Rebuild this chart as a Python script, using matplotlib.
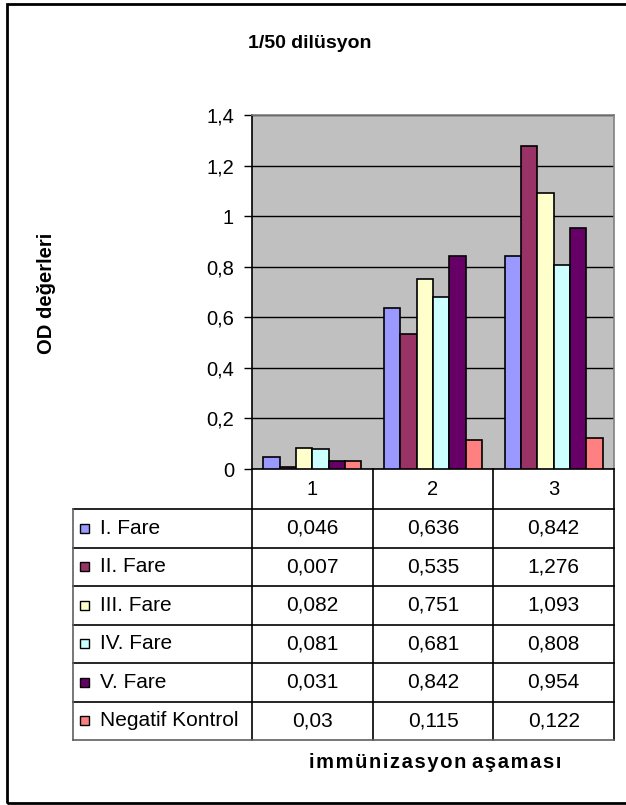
import numpy as np
import matplotlib.pyplot as plt
from matplotlib.patches import Rectangle
from matplotlib.lines import Line2D

plt.rcParams['font.family'] = ['Liberation Sans', 'DejaVu Sans']

# OD values per mouse at each immunization stage
stages = ['1', '2', '3']
series = ['I. Fare', 'II. Fare', 'III. Fare', 'IV. Fare', 'V. Fare', 'Negatif Kontrol']
fare_1 = [0.046, 0.636, 0.842]
fare_2 = [0.007, 0.535, 1.276]
fare_3 = [0.082, 0.751, 1.093]
fare_4 = [0.081, 0.681, 0.808]
fare_5 = [0.031, 0.842, 0.954]
negatif = [0.03, 0.115, 0.122]
colors = ['#9999FF', '#993366', '#FFFFCC', '#CCFFFF', '#660066', '#FF8080']

values = [fare_1, fare_2, fare_3, fare_4, fare_5, negatif]

W, H = 626, 805
fig = plt.figure(figsize=(W / 100, H / 100), dpi=100)


def fx(x):
    return x / W


def fy(y):
    return 1 - y / H


def comma(v):
    return f"{v:g}".replace('.', ',')


# plot area in pixels
ax_l, ax_r, ax_t, ax_b = 252, 614, 115, 469
ax = fig.add_axes([fx(ax_l), fy(ax_b), fx(ax_r) - fx(ax_l), fy(ax_t) - fy(ax_b)])
ax.set_facecolor('#C0C0C0')

n = len(series)
bw = 0.135
x = np.arange(len(stages))
for i, (vals, c) in enumerate(zip(values, colors)):
    ax.bar(x + (i - (n - 1) / 2) * bw, vals, bw, color=c, edgecolor='black',
           linewidth=1.2, zorder=3)

ax.set_xlim(-0.5, len(stages) - 0.5)
ax.set_ylim(0, 1.4)
ax.set_yticks(np.arange(0, 1.41, 0.2))
ax.set_yticklabels([comma(round(v, 1)) for v in np.arange(0, 1.41, 0.2)], fontsize=14.5)
ax.set_xticks([])
ax.yaxis.grid(True, color='black', linewidth=1, zorder=1)
ax.set_axisbelow(True)
ax.tick_params(axis='y', direction='out', length=6, width=1, pad=7)
for s in ['top', 'right']:
    ax.spines[s].set_color('#808080')
    ax.spines[s].set_linewidth(1.2)
ax.spines['left'].set_linewidth(1.2)
ax.spines['bottom'].set_linewidth(1.2)

# data table under the plot
tab_l = 73
hdr_top, hdr_bot = ax_b, 509
row_h = (740 - hdr_bot) / n
rows_y = [hdr_bot + k * row_h for k in range(n + 1)]
col_x = [ax_l + k * (ax_r - ax_l) / len(stages) for k in range(len(stages) + 1)]

lines = []
for xc in col_x:
    lines.append(([xc, xc], [hdr_top, rows_y[-1]], 'black'))
for k, yr in enumerate(rows_y):
    lines.append(([tab_l, ax_r], [yr, yr], 'black' if k < n else '#606060'))
lines.append(([tab_l, tab_l], [hdr_bot, rows_y[-1]], '#606060'))
for xs, ys, c in lines:
    fig.add_artist(Line2D([fx(v) for v in xs], [fy(v) for v in ys],
                          color=c, linewidth=1.2))

for j, st in enumerate(stages):
    fig.text(fx((col_x[j] + col_x[j + 1]) / 2), fy((hdr_top + hdr_bot) / 2), st,
             ha='center', va='center', fontsize=14.5)

for i, (name, vals, c) in enumerate(zip(series, values, colors)):
    yc = (rows_y[i] + rows_y[i + 1]) / 2
    fig.add_artist(Rectangle((fx(80), fy(yc + 4.5)), 9 / W, 9 / H,
                             facecolor=c, edgecolor='black', linewidth=1))
    fig.text(fx(100), fy(yc), name, ha='left', va='center', fontsize=15)
    for j, v in enumerate(vals):
        fig.text(fx((col_x[j] + col_x[j + 1]) / 2), fy(yc), comma(v),
                 ha='center', va='center', fontsize=15)

# titles
fig.text(fx(310), fy(43), '1/50 dilüsyon', ha='center', va='center',
         fontsize=14, fontweight='bold')
fig.text(fx(46), fy(293), 'OD değerleri', ha='center', va='center',
         rotation=90, fontsize=14.5, fontweight='bold')
fig.text(fx(435), fy(762), 'i m m ü n i z a s y o n  a ş a m a s ı'.replace(' ', '\u200a').replace('\u200a\u200a', ' '),
         ha='center', va='center', fontsize=14.5, fontweight='bold')

# chart border
fig.add_artist(Rectangle((fx(7), fy(803)), (W + 10) / W, (803 - 4) / H,
                         facecolor='none', edgecolor='black', linewidth=2))

fig.savefig('out.png', dpi=100)
